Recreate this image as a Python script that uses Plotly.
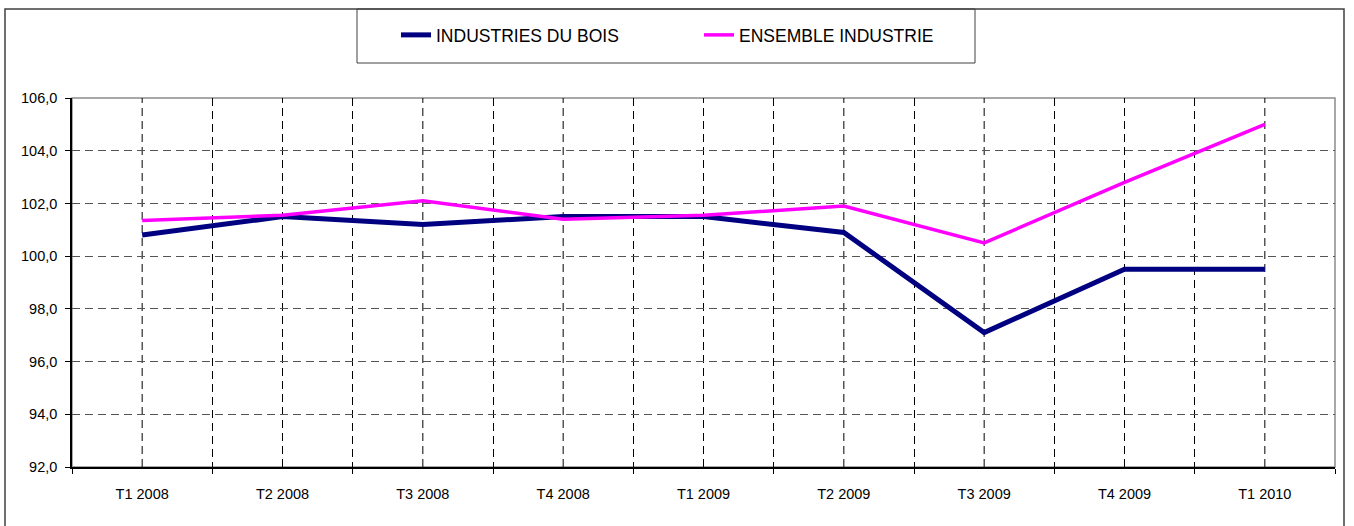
import plotly.graph_objects as go

quarters = ["T1 2008", "T2 2008", "T3 2008", "T4 2008", "T1 2009",
            "T2 2009", "T3 2009", "T4 2009", "T1 2010"]
bois = [100.8, 101.5, 101.2, 101.5, 101.5, 100.9, 97.1, 99.5, 99.5]
industrie = [101.35, 101.55, 102.1, 101.4, 101.55, 101.9, 100.5, 102.8, 105.0]

W, H = 1354, 526
L, R, T, B = 72, 19, 98, 59
pw, ph = W - L - R, H - T - B


def px_x(v):
    return (v - L) / pw


def px_y(v):
    return (H - B - v) / ph


fig = go.Figure()
fig.add_trace(go.Scatter(x=quarters, y=bois, mode="lines", name="INDUSTRIES DU BOIS",
                         line=dict(color="#000080", width=5), legend="legend",
                         showlegend=True))
fig.add_trace(go.Scatter(x=quarters, y=industrie, mode="lines", name="ENSEMBLE INDUSTRIE",
                         line=dict(color="#FF00FF", width=3.5), legend="legend2",
                         showlegend=True))

shapes = []
# outer frame (bottom edge falls outside the picture) and legend box
shapes.append(dict(type="rect", xref="paper", yref="paper",
                   x0=px_x(5), x1=px_x(1344), y0=px_y(530), y1=px_y(9),
                   line=dict(color="#404040", width=1.5), layer="below"))
shapes.append(dict(type="rect", xref="paper", yref="paper",
                   x0=px_x(357), x1=px_x(975), y0=px_y(63), y1=px_y(9),
                   line=dict(color="#404040", width=1), layer="below"))
# plot area border (top/right grey)
shapes.append(dict(type="rect", xref="paper", yref="paper", x0=0, x1=1, y0=0, y1=1,
                   line=dict(color="#8c8c8c", width=1.5), layer="below"))
# dashed vertical lines at category centres
for q in quarters:
    shapes.append(dict(type="line", xref="x", yref="paper", x0=q, x1=q, y0=0, y1=1,
                       line=dict(color="#000000", width=1, dash="8px,5px"), layer="below"))

fig.update_layout(
    width=W, height=H,
    margin=dict(l=L, r=R, t=T, b=B),
    paper_bgcolor="white", plot_bgcolor="white",
    font=dict(family="Liberation Sans, Arial, sans-serif", size=14.5, color="black"),
    separators=", ",
    shapes=shapes,
    showlegend=True,
    legend=dict(orientation="h", x=px_x(396), xanchor="left", y=px_y(35), yanchor="middle",
                font=dict(size=17.5), bgcolor="rgba(0,0,0,0)", borderwidth=0, visible=True),
    legend2=dict(orientation="h", x=px_x(699), xanchor="left", y=px_y(35), yanchor="middle",
                 font=dict(size=17.5), bgcolor="rgba(0,0,0,0)", borderwidth=0, visible=True),
    xaxis=dict(type="category", categoryarray=quarters, tickson="boundaries",
               ticks="outside", ticklen=5, tickcolor="black",
               showgrid=True, gridcolor="#000000", griddash="8px,5px", gridwidth=1,
               showline=True, linecolor="black", linewidth=1.5,
               range=[-0.5, 8.5], fixedrange=True, ticklabelstandoff=13),
    yaxis=dict(range=[92, 106], dtick=2, tick0=92, tickformat=".1f",
               ticks="outside", ticklen=5, tickcolor="black",
               showgrid=True, gridcolor="#555555", griddash="8px,5px", gridwidth=1,
               showline=True, linecolor="black", linewidth=1.5, zeroline=False,
               ticklabelstandoff=5),
)

fig.write_html("out.html", config={"displayModeBar": False},
               post_script="document.body.style.margin='0';")
